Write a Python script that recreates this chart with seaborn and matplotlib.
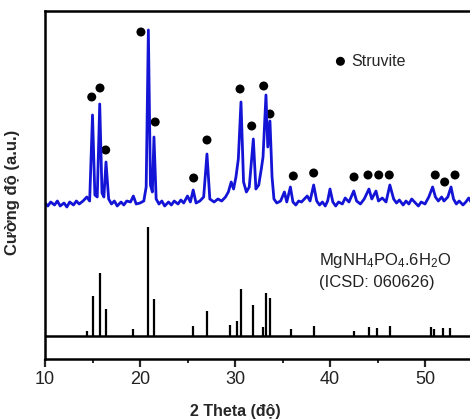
import numpy as np
import pandas as pd
import matplotlib
matplotlib.use("Agg")
import matplotlib.pyplot as plt
import seaborn as sns

sns.set_theme(style="white")
plt.rcParams['font.family'] = ['Liberation Sans', 'DejaVu Sans']
plt.rcParams['mathtext.default'] = 'regular'

# Measured pattern (2theta, intensity above background)
theta_meas = [10.0, 10.3, 10.6, 11.0, 11.3, 11.6, 12.0, 12.3, 12.6, 13.0, 13.3, 13.6, 14.0, 14.4,
              14.7, 15.0, 15.25, 15.5, 15.76, 16.0, 16.2, 16.42, 16.7, 17.0, 17.3, 17.6, 18.0,
              18.3, 18.6, 19.0, 19.3, 19.6, 20.0, 20.4, 20.65, 20.88, 21.1, 21.3, 21.47, 21.7,
              22.0, 22.3, 22.6, 23.0, 23.3, 23.6, 24.0, 24.3, 24.6, 25.0, 25.3, 25.6, 25.9, 26.3,
              26.7, 27.05, 27.35, 27.8, 28.2, 28.6, 29.0, 29.3, 29.6, 29.85, 30.1, 30.35, 30.63,
              30.9, 31.2, 31.5, 31.93, 32.2, 32.5, 32.8, 32.95, 33.26, 33.45, 33.68, 33.9, 34.1,
              34.4, 34.8, 35.2, 35.45, 35.83, 36.1, 36.4, 36.7, 37.0, 37.3, 37.6, 37.9, 38.28,
              38.6, 38.9, 39.2, 39.5, 39.75, 40.0, 40.3, 40.6, 40.9, 41.3, 41.6, 42.0, 42.5,
              42.8, 43.2, 43.6, 44.1, 44.4, 44.84, 45.1, 45.5, 45.9, 46.3, 46.7, 47.0, 47.3,
              47.7, 48.0, 48.3, 48.6, 49.0, 49.3, 49.6, 50.0, 50.4, 50.8, 51.1, 51.4, 51.75,
              52.0, 52.4, 52.74, 53.0, 53.3, 53.6, 54.0, 54.3, 54.6, 54.9]
int_meas = [4, 1, 5, 2, 6, 1, 4, 0, 5, 2, 6, 3, 6, 10,
            6, 92, 12, 10, 103, 14, 10, 45, 8, 3, 6, 1, 5,
            2, 6, 5, 11, 3, 4, 6, 20, 177, 22, 15, 70, 8,
            3, 6, 1, 5, 2, 6, 3, 7, 4, 11, 5, 17, 4, 6,
            10, 53, 8, 5, 8, 6, 10, 15, 25, 18, 30, 48, 105,
            25, 15, 20, 68, 18, 22, 40, 50, 112, 60, 86, 30, 8,
            4, 6, 15, 5, 20, 5, 2, 6, 5, 8, 11, 6, 22,
            6, 2, 5, 1, 6, 18, 5, 1, 5, 3, 9, 5, 16,
            6, 3, 8, 18, 8, 16, 6, 9, 5, 22, 8, 4, 7,
            2, 6, 3, 8, 4, 1, 5, 3, 10, 20, 10, 6, 10,
            6, 10, 20, 8, 3, 6, 2, 5, 9, 4]

# Struvite markers (2theta, height above background)
theta_mark = [14.92, 15.79, 16.39, 20.1, 21.6, 25.65, 27.05, 30.53, 31.76, 33.02, 33.68,
              36.14, 38.28, 42.53, 44.0, 45.13, 46.24, 51.08, 52.07, 53.16]
int_mark = [110, 119, 57, 175, 85, 29, 67, 118, 81, 121, 93,
            31, 34, 30, 32, 32, 32, 32, 25, 32]

# Reference ICSD 060626 sticks (2theta, relative intensity %)
theta_ref = [14.4, 15.0, 15.8, 16.45, 19.3, 20.84, 21.47, 25.6, 27.05, 29.5, 30.2, 30.63,
             31.9, 32.9, 33.3, 33.7, 35.86, 38.28, 42.5, 44.07, 44.98, 46.35, 50.67, 50.9,
             51.86, 52.63]
int_ref = [5, 37, 58, 25, 6, 100, 34, 9, 23, 10, 14, 43,
           28, 8, 39, 35, 6, 9, 5, 8, 7, 9, 8, 6,
           7, 7]

meas_offset = 152
ref_base = 23
ref_scale = 1.09

fig = plt.figure(figsize=(4.7, 4.2), dpi=100)
ax = fig.add_axes([45/470, 61/420, 425/470, 348/420])

df_meas = pd.DataFrame({"theta": theta_meas, "I": np.array(int_meas) + meas_offset})
sns.lineplot(data=df_meas, x="theta", y="I", ax=ax, color="#1414d6", linewidth=2.0,
             estimator=None, sort=False)

ax.vlines(theta_ref, ref_base, ref_base + np.array(int_ref) * ref_scale, color="black", linewidth=1.6)
ax.axhline(ref_base, color="black", linewidth=1.8)

df_mark = pd.DataFrame({"theta": theta_mark, "I": np.array(int_mark) + meas_offset})
sns.scatterplot(data=df_mark, x="theta", y="I", ax=ax, color="black", s=42,
                edgecolor="none", label="Struvite")

ax.legend(loc="upper left", bbox_to_anchor=(0.65, 0.91), frameon=False, fontsize=11.5,
          handletextpad=0.2, handlelength=1.0, borderpad=0.2)

ax.text(0.645, 0.255, "MgNH$_4$PO$_4$.6H$_2$O\n(ICSD: 060626)", transform=ax.transAxes,
        fontsize=12, color="#222222", va="center", ha="left", linespacing=1.45)

ax.set_xlim(10, 10 + 425/9.5)
ax.set_ylim(0, 348)
ax.set_yticks([])
ax.set_xticks([10, 20, 30, 40, 50])
ax.set_xticks([15, 25, 35, 45], minor=True)
ax.tick_params(axis="x", which="major", direction="out", length=6, width=1.6, labelsize=13,
               bottom=True, pad=3, labelcolor="#222222")
ax.tick_params(axis="x", which="minor", direction="out", length=3, width=1.4, bottom=True)

for s in ["left", "top", "bottom"]:
    ax.spines[s].set_linewidth(1.8)
    ax.spines[s].set_color("black")
ax.spines["right"].set_visible(False)

ax.set_xlabel("2 Theta (độ)", fontsize=11.5, fontweight="bold")
ax.set_ylabel("Cường độ (a.u.)", fontsize=12, fontweight="bold")
ax.xaxis.set_label_coords(0.447, -0.13)
ax.yaxis.set_label_coords(-0.058, 0.48)

fig.savefig("out.png", dpi=100)
